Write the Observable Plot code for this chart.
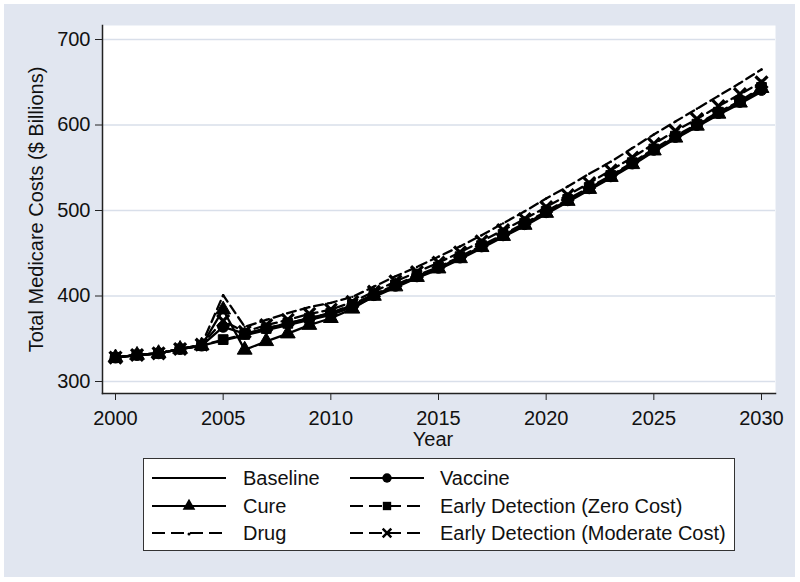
<!DOCTYPE html>
<html>
<head>
<meta charset="utf-8">
<script src="https://cdn.jsdelivr.net/npm/d3@7"></script>
<script src="https://cdn.jsdelivr.net/npm/@observablehq/plot@0.6"></script>
<style>
  body { margin: 0; background: #ffffff; font-family: "Liberation Sans", Arial, sans-serif; }
  #panel { position: absolute; left: 4px; top: 4px; width: 791px; height: 573px; background: #e1e6f0; }
  #chart { position: absolute; left: 0; top: 0; }
  #legend { position: absolute; left: 143px; top: 458px; width: 590px; height: 91px; background: #ffffff; border: 1px solid #333; }
  .sample { position: absolute; }
  .label { position: absolute; font-size: 20px; line-height: 26px; color: #111; white-space: nowrap; }
</style>
</head>
<body>
<div id="panel"></div>
<div id="chart"></div>
<div id="legend"></div>
<script>
// ---- data ----
const years = [2000,2001,2002,2003,2004,2005,2006,2007,2008,2009,2010,2011,2012,2013,2014,2015,2016,2017,2018,2019,2020,2021,2022,2023,2024,2025,2026,2027,2028,2029,2030];
const baseline = [328,331,333,338,342,348,354,360,366,372,378,387,399,410,421,431,443,456,469,482,496,510,524,538,553,569,584,598,612,625,639];
const vaccine  = [328,331,333,338,342,364,356,362,368,374,380,389,401,412,423,433,445,458,471,484,498,512,526,540,555,571,586,600,614,627,641];
const cure     = [328,331,333,338,342,384,337,347,356,366,374,385,400,411,422,432,444,457,470,483,497,511,525,539,554,570,585,599,613,626,643];
const edZero   = [328,331,333,338,342,349,355,362,368,374,380,390,402,413,424,434,446,459,472,485,499,513,527,541,556,572,587,601,615,628,644];
const drug     = [328,331,333,338,343,401,364,372,380,387,392,399,411,423,434,446,458,471,485,499,514,528,543,557,573,589,604,619,634,649,665];
const edMod    = [328,331,333,338,343,371,358,366,372,379,384,393,405,417,428,439,451,464,477,490,504,518,532,547,562,578,593,607,622,636,650];

const seriesNames = ["Baseline","Vaccine","Cure","Early Detection (Zero Cost)","Drug","Early Detection (Moderate Cost)"];
const seriesValues = [baseline, vaccine, cure, edZero, drug, edMod];
const legendOrder = ["Baseline","Vaccine","Cure","Early Detection (Zero Cost)","Drug","Early Detection (Moderate Cost)"];
const xTicks = [2000,2005,2010,2015,2020,2025,2030];
const yTicks = [300,400,500,600,700];
const xLabel = "Year";
const yLabel = "Total Medicare Costs ($ Billions)";

// ---- styles ----
const styleOf = {
  "Baseline": {dash: null, symbol: null},
  "Vaccine": {dash: null, symbol: "circle"},
  "Cure": {dash: null, symbol: "triangle"},
  "Early Detection (Zero Cost)": {dash: "9,5", symbol: "square"},
  "Drug": {dash: "9,5", symbol: "point"},
  "Early Detection (Moderate Cost)": {dash: "9,5", symbol: "times"}
};

const rows = [];
seriesNames.forEach((name, i) => {
  seriesValues[i].forEach((v, j) => rows.push({series: name, year: years[j], value: v}));
});

const lineMarks = [];
const dotMarks = [];
seriesNames.forEach(name => {
  const s = styleOf[name];
  const d = rows.filter(r => r.series === name);
  lineMarks.push(Plot.line(d, {x: "year", y: "value", stroke: "black", strokeWidth: 2.3, strokeDasharray: s.dash ?? undefined}));
  if (s.symbol === "times") {
    dotMarks.push(Plot.dot(d, {x: "year", y: "value", symbol: "times", r: 5.5, stroke: "black", strokeWidth: 3.2}));
  } else if (s.symbol === "point") {
    dotMarks.push(Plot.dot(d, {x: "year", y: "value", r: 1.2, fill: "black", stroke: null}));
  } else if (s.symbol) {
    dotMarks.push(Plot.dot(d, {x: "year", y: "value", symbol: s.symbol, r: 5.5, fill: "black", stroke: "black", strokeWidth: 1}));
  }
});

const chart = Plot.plot({
  width: 800,
  height: 450,
  marginLeft: 102,
  marginRight: 25,
  marginTop: 25,
  marginBottom: 57,
  x: {domain: [2000, 2030], insetLeft: 13, insetRight: 14},
  y: {domain: [300, 700], insetTop: 14, insetBottom: 12},
  style: {background: "transparent", fontFamily: "'Liberation Sans', Arial, sans-serif", fontSize: "20px", color: "#111", overflow: "visible"},
  marks: [
    Plot.frame({fill: "white", stroke: null}),
    Plot.gridY(yTicks, {stroke: "#d9dfea", strokeOpacity: 1, strokeWidth: 1.5}),
    Plot.axisY(yTicks, {tickSize: 7, tickPadding: 5, label: null, fontSize: 20, stroke: "#222"}),
    Plot.axisX(xTicks, {tickSize: 7, tickPadding: 10, label: null, fontSize: 20, tickFormat: d => String(d), stroke: "#222"}),
    Plot.frame({anchor: "left", stroke: "#222", strokeWidth: 1.5}),
    Plot.frame({anchor: "bottom", stroke: "#222", strokeWidth: 1.5}),
    ...lineMarks,
    ...dotMarks,
    Plot.text([yLabel], {frameAnchor: "left", textAnchor: "middle", dx: -66, rotate: -90, fontSize: 20, fill: "#111"}),
    Plot.text([xLabel], {frameAnchor: "bottom", textAnchor: "middle", lineAnchor: "bottom", dx: -6, dy: 52, fontSize: 20, fill: "#111"})
  ]
});
document.getElementById("chart").appendChild(chart);

// ---- legend ----
const legend = document.getElementById("legend");
const sampleX = [8, 206];
const textX = [99, 296];
const rowY = [6, 34, 61];
legendOrder.forEach((name, i) => {
  const s = styleOf[name];
  const c = i % 2, r = Math.floor(i / 2);
  const w = 74, h = 26;
  const svg = d3.create("svg").attr("width", w).attr("height", h).attr("class", "sample")
    .style("left", sampleX[c] + "px").style("top", rowY[r] + "px");
  svg.append("line").attr("x1", 0).attr("x2", w).attr("y1", h / 2).attr("y2", h / 2)
    .attr("stroke", "black").attr("stroke-width", 2)
    .attr("stroke-dasharray", s.dash ? "13,6" : null);
  if (s.symbol === "point") {
    svg.append("circle").attr("cx", w / 2).attr("cy", h / 2 + 1).attr("r", 1.5).attr("fill", "black");
  } else if (s.symbol) {
    const sym = {circle: d3.symbolCircle, triangle: d3.symbolTriangle, square: d3.symbolSquare, times: d3.symbolTimes}[s.symbol];
    const p = svg.append("path").attr("transform", `translate(${w / 2},${h / 2})`)
      .attr("d", d3.symbol(sym, s.symbol === "times" ? 50 : 70)());
    if (s.symbol === "times") p.attr("fill", "none").attr("stroke", "black").attr("stroke-width", 2.5);
    else p.attr("fill", "black");
  }
  legend.appendChild(svg.node());
  const t = document.createElement("div");
  t.className = "label";
  t.style.left = textX[c] + "px";
  t.style.top = rowY[r] + "px";
  t.textContent = name;
  legend.appendChild(t);
});
</script>
</body>
</html>
